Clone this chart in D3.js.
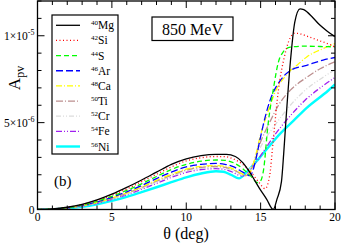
<!DOCTYPE html>
<html><head><meta charset="utf-8">
<script src="https://cdn.jsdelivr.net/npm/d3@7"></script>
<style>html,body{margin:0;padding:0;background:#fff;}svg{display:block;}</style>
</head><body><svg id="c" width="342" height="243"></svg>
<script>
// values in units of 1e-6
const mg = [[0,0],[1,0.03],[2,0.13],[3,0.3],[4,0.55],[5,0.88],[6,1.27],[7,1.7],[8,2.15],[9,2.6],[10,2.92],[11,3.1],[12,3.17],[12.7,3.17],[13.3,3.05],[13.8,2.7],[14.3,2.1],[14.9,1.25],[15.4,0.6],[15.85,0.0],[16.1,0.6],[16.4,1.6],[16.55,3.2],[16.7,5.1],[17.0,8.5],[17.3,10.8],[17.65,11.55],[17.9,11.5],[18.5,11.05],[19,10.6],[19.5,10.25],[20,9.95]];
const si = [[0,0],[1,0.03],[2,0.12],[3,0.28],[4,0.51],[5,0.82],[6,1.18],[7,1.6],[8,2.03],[9,2.45],[10,2.8],[11,2.98],[12,3.05],[12.6,3.04],[13.2,2.9],[13.8,2.6],[14.4,2.1],[14.9,1.55],[15.3,1.2],[15.6,1.9],[15.85,4.0],[16.2,6.9],[16.6,8.8],[17.0,9.9],[17.3,10.15],[17.7,10.1],[18.2,9.95],[19,9.7],[19.5,9.55],[20,9.35]];
const s = [[0,0],[1,0.03],[2,0.11],[3,0.26],[4,0.47],[5,0.76],[6,1.1],[7,1.48],[8,1.9],[9,2.3],[10,2.6],[11,2.78],[12,2.85],[12.6,2.83],[13.2,2.68],[13.8,2.35],[14.3,1.95],[14.8,1.55],[15.0,1.65],[15.2,2.3],[15.5,4.9],[15.85,6.9],[16.2,8.5],[16.5,9.05],[17,9.35],[18,9.4],[19,9.38],[20,9.36]];
const ar = [[0,0],[1,0.02],[2,0.1],[3,0.24],[4,0.44],[5,0.7],[6,1.02],[7,1.38],[8,1.78],[9,2.15],[10,2.45],[11,2.6],[12,2.65],[12.6,2.6],[13.2,2.45],[13.8,2.15],[14.3,1.95],[14.6,2.6],[14.95,4.0],[15.3,5.3],[15.6,6.2],[15.8,6.65],[16.3,7.4],[17,8.0],[18.1,8.3],[19.2,8.6],[20,8.75]];
const ca = [[0,0],[1,0.02],[2,0.09],[3,0.22],[4,0.41],[5,0.66],[6,0.96],[7,1.3],[8,1.68],[9,2.03],[10,2.32],[11,2.48],[12,2.53],[12.6,2.48],[13.2,2.32],[13.7,2.08],[14.1,1.95],[14.5,2.6],[15.0,4.3],[15.6,5.9],[16.1,7.0],[16.6,7.6],[17.0,8.0],[17.5,8.35],[18.1,8.78],[19.2,9.26],[20,9.55]];
const ti = [[0,0],[1,0.02],[2,0.09],[3,0.21],[4,0.4],[5,0.64],[6,0.93],[7,1.26],[8,1.63],[9,1.97],[10,2.27],[11,2.43],[12,2.48],[12.6,2.43],[13.2,2.27],[13.7,2.05],[14.0,1.95],[14.4,2.4],[15.0,3.9],[15.6,5.0],[16.2,6.0],[17.0,6.87],[18,7.55],[19,8.1],[20,8.5]];
const cr = [[0,0],[1,0.02],[2,0.085],[3,0.2],[4,0.38],[5,0.61],[6,0.89],[7,1.21],[8,1.57],[9,1.92],[10,2.2],[11,2.37],[12,2.42],[12.6,2.37],[13.2,2.2],[13.6,2.02],[13.9,1.95],[14.5,2.7],[15,3.6],[16,4.9],[17,6.0],[18,6.87],[19,7.5],[20,8.05]];
const fe = [[0,0],[1,0.02],[2,0.08],[3,0.19],[4,0.36],[5,0.58],[6,0.85],[7,1.16],[8,1.5],[9,1.85],[10,2.13],[11,2.3],[12,2.35],[12.6,2.3],[13.2,2.12],[13.5,1.98],[13.8,1.93],[14.5,2.5],[15,3.1],[16,4.35],[17,5.4],[18,6.3],[18.8,6.87],[19,7.0],[20,7.6]];
const ni = [[0,0],[1,0.01],[2,0.06],[3,0.15],[4,0.3],[5,0.5],[6,0.73],[7,1.0],[8,1.28],[9,1.57],[10,1.85],[11,2.07],[12,2.2],[12.5,2.17],[13,2.0],[13.55,1.79],[14,2.1],[14.95,3.0],[16.3,4.35],[17.2,5.1],[18.1,5.85],[19.55,6.85],[20,7.2]];

const seriesNames = ["Mg","Si","S","Ar","Ca","Ti","Cr","Fe","Ni"];
const massNumbers = ["40","42","44","46","48","50","52","54","56"];
const seriesData = [mg,si,s,ar,ca,ti,cr,fe,ni];
const xTicks = [0,5,10,15,20];
const energyLabel = "850 MeV";
const panelLabel = "(b)";

const colors = ["#000000","#ff0000","#00ff00","#0000ff","#ffff00","#bc8f8f","#dcdcdc","#a020f0","#00ffff"];
const dashes = [null,"1,2.5","5,3","7,3","6,2,1,2","7,2,1,2","5,2,1,2,1,2","6,2,1,2,1,2",null];
const widths = [1.3,1.3,1.3,1.3,1.3,1.3,1.3,1.3,2.4];

const svg = d3.select("#c");
const L=37.5,R=335,T=1,B=209.5;
const x = d3.scaleLinear().domain([0,20]).range([L,R]);
const y = d3.scaleLinear().domain([0,12]).range([B,T]);

svg.append("defs").append("clipPath").attr("id","cp").append("rect").attr("x",L).attr("y",T).attr("width",R-L).attr("height",B-T);

const line = d3.line().x(d=>x(d[0])).y(d=>y(d[1])).curve(d3.curveMonotoneX);
const plot = svg.append("g").attr("clip-path","url(#cp)");
for(let i=seriesData.length-1;i>=0;i--){
  plot.append("path").datum(seriesData[i]).attr("d",line).attr("fill","none")
    .attr("stroke",colors[i]).attr("stroke-width",widths[i])
    .attr("stroke-dasharray",dashes[i]).attr("stroke-linejoin","round");
}

svg.append("rect").attr("x",L).attr("y",T).attr("width",R-L).attr("height",B-T).attr("fill","none").attr("stroke","#000").attr("stroke-width",1.3);

const tg = svg.append("g").attr("stroke","#000").attr("stroke-width",1);
d3.range(0,21,1).forEach(v=>{
  const len = v%5===0?7:4;
  tg.append("line").attr("x1",x(v)).attr("x2",x(v)).attr("y1",B).attr("y2",B-len);
  tg.append("line").attr("x1",x(v)).attr("x2",x(v)).attr("y1",T).attr("y2",T+len);
});
d3.range(0,13,1).forEach(v=>{
  const len = v%5===0?7:4;
  tg.append("line").attr("y1",y(v)).attr("y2",y(v)).attr("x1",L).attr("x2",L+len);
  tg.append("line").attr("y1",y(v)).attr("y2",y(v)).attr("x1",R).attr("x2",R-len);
});

const font = "Liberation Serif, Times New Roman, serif";
svg.append("g").selectAll("text").data(xTicks).join("text")
  .attr("x",d=>x(d)).attr("y",B+11).attr("text-anchor","middle")
  .attr("font-family",font).attr("font-size",11.5).text(d=>d);

function yLab(val, mant, exp){
  const t = svg.append("text").attr("x",L-3).attr("y",y(val)+4).attr("text-anchor","end")
    .attr("font-family",font).attr("font-size",11.5);
  if(exp===null){t.text(mant);return;}
  t.append("tspan").text(mant+"\u00d710");
  t.append("tspan").attr("dy",-5).attr("font-size",8).text(exp);
}
yLab(0,"0",null);
yLab(5,"5",'-6');
yLab(10,"1",'-5');

svg.append("text").attr("x",186).attr("y",239).attr("text-anchor","middle")
  .attr("font-family",font).attr("font-size",16).text("\u03b8 (deg)");
const yt = svg.append("text").attr("transform","translate(20,78) rotate(-90)").attr("text-anchor","middle")
  .attr("font-family",font).attr("font-size",17);
yt.append("tspan").text("A");
yt.append("tspan").attr("dy",4).attr("font-size",12).text("pv");

const lg = svg.append("g");
lg.append("rect").attr("x",52).attr("y",15).attr("width",66).attr("height",139).attr("fill","#fff").attr("stroke","#000").attr("stroke-width",1.2);
seriesNames.forEach((n,i)=>{
  const yy = 25.3 + i*15.15;
  lg.append("line").attr("x1",56).attr("x2",80).attr("y1",yy).attr("y2",yy)
    .attr("stroke",colors[i]).attr("stroke-width",widths[i]).attr("stroke-dasharray",dashes[i]);
  const t = lg.append("text").attr("x",91).attr("y",yy+4).attr("font-family",font).attr("font-size",11.5);
  t.append("tspan").attr("font-size",7).attr("dy",-4).text(massNumbers[i]);
  t.append("tspan").attr("dy",4).text(n);
});

svg.append("rect").attr("x",152).attr("y",17).attr("width",81).attr("height",23.5).attr("fill","#fff").attr("stroke","#000").attr("stroke-width",1.2);
svg.append("text").attr("x",192.5).attr("y",34.5).attr("text-anchor","middle").attr("font-family",font).attr("font-size",16).text(energyLabel);

svg.append("text").attr("x",54).attr("y",186).attr("font-family",font).attr("font-size",15).text(panelLabel);
</script></body></html>
